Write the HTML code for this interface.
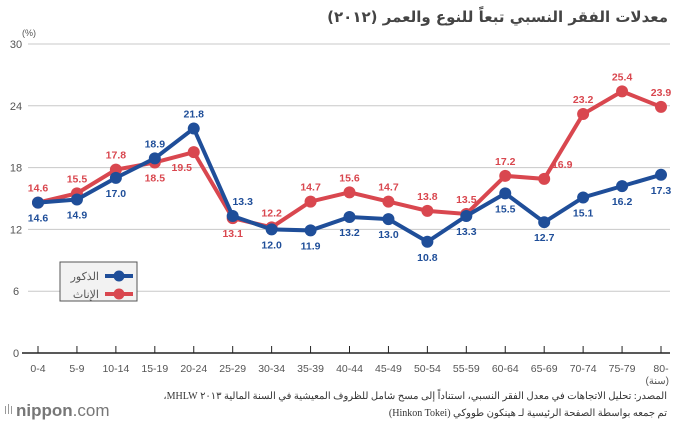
<!DOCTYPE html>
<html><head><meta charset="utf-8"><style>
body{margin:0;background:#fff;width:676px;height:424px;overflow:hidden;font-family:"Liberation Sans","Noto Sans CJK SC",sans-serif}
svg{display:block}
</style></head><body>
<svg id="c" width="676" height="424">
<text x="668" y="22" text-anchor="start" direction="rtl" font-size="15" font-weight="bold" fill="#444" font-family="'DejaVu Sans',sans-serif">معدلات الفقر النسبي تبعاً للنوع والعمر (٢٠١٢)</text>
<text x="22" y="36" font-size="9" fill="#555">(%)</text>
<g id="grid"></g><g id="series"></g><g id="labels"></g>
<g>
<rect x="60" y="262" width="77" height="39" fill="#f2f2f2" stroke="#555" stroke-width="1"/>
<line x1="105" y1="276" x2="133" y2="276" stroke="#1f4e99" stroke-width="4"/><circle cx="119" cy="276" r="5.5" fill="#1f4e99"/>
<text x="99" y="280" font-size="11" fill="#555" text-anchor="end">الذكور</text>
<line x1="105" y1="294" x2="133" y2="294" stroke="#d9474f" stroke-width="4"/><circle cx="119" cy="294" r="5.5" fill="#d9474f"/>
<text x="99" y="298" font-size="11" fill="#555" text-anchor="end">الإناث</text>
</g>
<text x="669" y="384" font-size="10" fill="#555" text-anchor="end">(سنة)</text>
<text x="667" y="399" font-size="10" fill="#333" text-anchor="start" direction="rtl" font-family="'Liberation Serif','DejaVu Serif',serif">المصدر: تحليل الاتجاهات في معدل الفقر النسبي، استناداً إلى مسح شامل للظروف المعيشية في السنة المالية ٢٠١٣ MHLW،</text>
<text x="667" y="416" font-size="10" fill="#333" text-anchor="start" direction="rtl" font-family="'Liberation Serif','DejaVu Serif',serif">تم جمعه بواسطة الصفحة الرئيسية لـ هينكون طووكي (Hinkon Tokei)</text>
<g><rect x="5" y="406" width="1" height="8" fill="#999"/><rect x="8" y="404" width="1" height="10" fill="#999"/><rect x="11" y="406" width="1" height="8" fill="#999"/>
<text x="16" y="416" font-size="17" fill="#777"><tspan font-weight="bold">nippon</tspan>.com</text></g>
</svg>
<script>
const categories=["0-4","5-9","10-14","15-19","20-24","25-29","30-34","35-39","40-44","45-49","50-54","55-59","60-64","65-69","70-74","75-79","80-"];
const male=[14.6,14.9,17.0,18.9,21.8,13.3,12.0,11.9,13.2,13.0,10.8,13.3,15.5,12.7,15.1,16.2,17.3];
const female=[14.6,15.5,17.8,18.5,19.5,13.1,12.2,14.7,15.6,14.7,13.8,13.5,17.2,16.9,23.2,25.4,23.9];
const yTicks=[0,6,12,18,24,30];
const NS="http://www.w3.org/2000/svg";
const x0=38,x1=661,yb=353,yt=44;
const xs=i=>x0+i*(x1-x0)/(categories.length-1);
const ys=v=>yb-(v/30)*(yb-yt);
function mk(t,a,p){const e=document.createElementNS(NS,t);for(const k in a)e.setAttribute(k,a[k]);p.appendChild(e);return e;}
const g=document.getElementById('grid'),s=document.getElementById('series'),lb=document.getElementById('labels');
yTicks.forEach(v=>{
 if(v>0){const l=mk('line',{x1:28,x2:670,y1:ys(v),y2:ys(v),stroke:'#c8c8c8','stroke-width':1},g);
 
 }
 const t=mk('text',{x:16,y:ys(v)+4,'font-size':11,fill:'#555','text-anchor':'middle'},g);t.textContent=v;
 
 
});
const ax=mk('line',{x1:22,x2:670,y1:yb,y2:yb,stroke:'#222','stroke-width':1.5},g);


categories.forEach((c,i)=>{
 mk('line',{x1:xs(i),x2:xs(i),y1:yb-7,y2:yb,stroke:'#222','stroke-width':1},g);
 const t=mk('text',{x:xs(i),y:372,'font-size':10.5,fill:'#555','text-anchor':'middle'},g);t.textContent=c;
 
 
});
function draw(d,col,name,above,dx){
 const pl=mk('polyline',{points:d.map((v,i)=>xs(i)+','+ys(v)).join(' '),fill:'none',stroke:col,'stroke-width':4},s);
 
 
 d.forEach((v,i)=>{
  const c=mk('circle',{cx:xs(i),cy:ys(v),r:6,fill:col},s);
  
  
  const up=above(i);
  const t=mk('text',{x:xs(i)+dx(i),y:up?ys(v)-11:ys(v)+19,'font-size':10.5,'font-weight':'bold',fill:col,'text-anchor':'middle'},lb);
  t.textContent=v.toFixed(1);
  
  
 });
}
draw(female,'#d9474f','female',i=>!(female[i]<male[i]||(i==5)),i=>i==4?-12:(i==13?18:0));
draw(male,'#1f4e99','male',i=>(i>0&&male[i]>female[i])||i==5,i=>i==5?10:0);
</script>
</body></html>
